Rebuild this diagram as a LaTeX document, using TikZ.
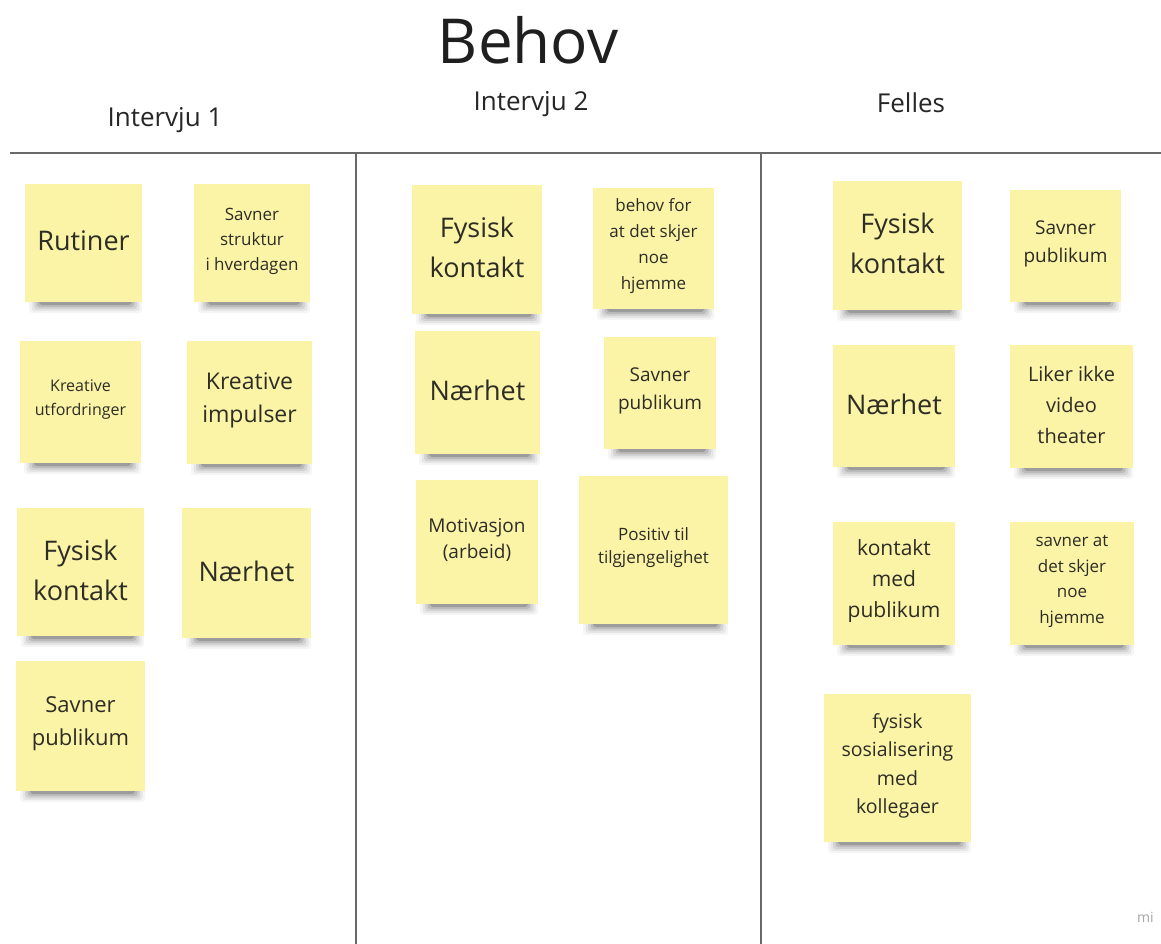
\documentclass[tikz,border=0pt]{standalone}
\usepackage{fontspec}
\setmainfont{Open Sans}
\definecolor{notefill}{RGB}{251,243,166}
\definecolor{ink}{RGB}{45,45,38}
\definecolor{rulecol}{RGB}{105,105,105}
\tikzset{
  notebox/.style={fill=notefill, draw=none, inner sep=0pt},
  notetext/.style={text=ink, align=center, inner sep=0pt},
  hdr/.style={text=black!85, font=\fontsize{26}{30}\selectfont, inner sep=0pt},
  rulestyle/.style={draw=rulecol, line width=1.4pt}
}
\newcommand\sticky[8]{%
  \foreach \k/\o in {4/0.04,3/0.06,2/0.08,1/0.11,0/0.16}{%
    \fill[black,opacity=\o,rounded corners=3pt] ({#2+14-\k*2.5},{#5-8}) rectangle ({#4-10+\k*2.5},{#5+3+\k*2});}
  \node[notebox, minimum width={#4-#2}, minimum height={#5-#3}] (#1) at ({(#2+#4)/2},{(#3+#5)/2}) {};
  \node[notetext, font=\fontsize{#6}{#7}\selectfont] (#1-t) at ([yshift=2pt]#1.center) {#8};
}
\begin{document}
\begin{tikzpicture}[x=1pt,y=-1pt]
\useasboundingbox[fill=white] (0,0) rectangle (1161,944);
% titles
\node[text=black!88, font=\fontsize{62}{70}\selectfont, inner sep=0pt] (title) at (528,40) {Behov};
\node[hdr] (h1) at (165,120) {Intervju 1};
\node[hdr] (h2) at (531,104) {Intervju 2};
\node[hdr] (h3) at (911,103) {Felles};
% rules
\coordinate (hl) at (10,153); \coordinate (hr) at (1161,153);
\coordinate (v1t) at (356,153); \coordinate (v1b) at (356,944);
\coordinate (v2t) at (761,153); \coordinate (v2b) at (761,944);
\draw[rulestyle] (hl) -- (hr);
\draw[rulestyle] (v1t) -- (v1b);
\draw[rulestyle] (v2t) -- (v2b);
% column 1
\sticky{a1}{25}{184}{142}{302}{27}{38}{Rutiner}
\sticky{a2}{194}{184}{310}{302}{17}{25}{Savner\\struktur\\i hverdagen}
\sticky{a3}{20}{341}{141}{463}{16}{24}{Kreative\\utfordringer}
\sticky{a4}{187}{341}{312}{464}{23}{33}{Kreative\\impulser}
\sticky{a5}{17}{508}{144}{636}{27}{40}{Fysisk\\kontakt}
\sticky{a6}{182}{508}{311}{638}{27}{38}{Nærhet}
\sticky{a7}{16}{661}{145}{791}{22}{33}{Savner\\publikum}
% column 2
\sticky{b1}{412}{185}{542}{314}{27}{40}{Fysisk\\kontakt}
\sticky{b2}{593}{188}{714}{309}{17}{26}{behov for\\at det skjer\\noe\\hjemme}
\sticky{b3}{415}{331}{540}{454}{27}{38}{Nærhet}
\sticky{b4}{604}{337}{716}{449}{19}{28}{Savner\\publikum}
\sticky{b5}{416}{480}{538}{604}{19}{26}{Motivasjon\\(arbeid)}
\sticky{b6}{579}{476}{728}{624}{17}{23}{Positiv til\\tilgjengelighet}
% column 3
\sticky{c1}{833}{181}{962}{310}{27}{40}{Fysisk\\kontakt}
\sticky{c2}{1010}{190}{1121}{302}{19}{28}{Savner\\publikum}
\sticky{c3}{833}{345}{955}{467}{27}{38}{Nærhet}
\sticky{c4}{1010}{345}{1133}{468}{20}{31}{Liker ikke\\video\\theater}
\sticky{c5}{833}{522}{955}{645}{21}{31}{kontakt\\med\\publikum}
\sticky{c6}{1010}{522}{1134}{645}{17}{25.5}{savner at\\det skjer\\noe\\hjemme}
\sticky{c7}{824}{694}{971}{842}{19.5}{28.5}{fysisk\\sosialisering\\med\\kollegaer}
% watermark
\node[text=black!35, font=\fontsize{14}{14}\selectfont, anchor=west, inner sep=0pt] (miro) at (1137,917) {mi};
\end{tikzpicture}
\end{document}
